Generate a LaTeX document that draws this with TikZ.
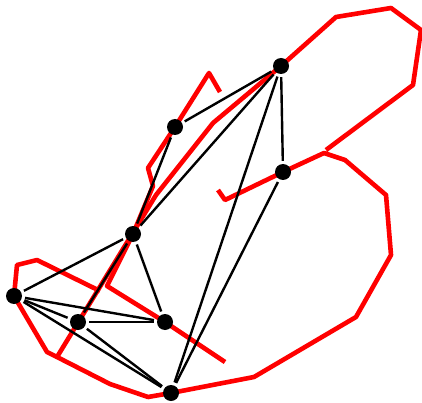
\documentclass[tikz,border=0pt]{standalone}
\pgfdeclarelayer{bg}
\pgfsetlayers{bg,main}
\tikzset{
  vtx/.style={circle,fill=black,inner sep=0pt,minimum size=16pt},
  edge/.style={draw=black,line width=2.4pt,shorten <=3pt,shorten >=3pt},
  curve/.style={draw=red,line width=4.6pt,line join=round}
}
\begin{document}
\begin{tikzpicture}[x=1pt,y=-1pt]
\useasboundingbox (0,0) rectangle (422,403);
\node[vtx] (A) at (281,66) {};
\node[vtx] (B) at (175,127) {};
\node[vtx] (C) at (283,172) {};
\node[vtx] (D) at (133,234) {};
\node[vtx] (E) at (14,296) {};
\node[vtx] (F) at (78,322) {};
\node[vtx] (G) at (165,322) {};
\node[vtx] (H) at (171,393) {};
\begin{pgfonlayer}{bg}
\draw[curve] (220,92) -- (209,73) -- (B.center) -- (148,168) -- (153,186) -- (D.center) -- (107,286) -- (G.center) -- (225,362);
\draw[curve] (218,190) -- (225,200) -- (C.center) -- (324,153) -- (345,160) -- (386,195) -- (391,255) -- (356,317) -- (254,377) -- (H.center) -- (148,397) -- (110,384) -- (57,357) -- (156,195) -- (213,123) -- (A.center) -- (336,17) -- (391,8) -- (421,30) -- (413,85) -- (326,150);
\draw[curve] (57,357) -- (47,352) -- (E.center) -- (17,265) -- (37,260) -- (100,291);
\draw[edge] (A) -- (B);
\draw[edge] (A) -- (D);
\draw[edge] (A) -- (C);
\draw[edge] (A) -- (H);
\draw[edge] (C) -- (H);
\draw[edge] (B) -- (D);
\draw[edge] (D) -- (E);
\draw[edge] (D) -- (F);
\draw[edge] (D) -- (G);
\draw[edge] (E) -- (F);
\draw[edge] (E) -- (G);
\draw[edge] (E) -- (H);
\draw[edge] (F) -- (G);
\draw[edge] (F) -- (H);
\end{pgfonlayer}
\end{tikzpicture}
\end{document}
